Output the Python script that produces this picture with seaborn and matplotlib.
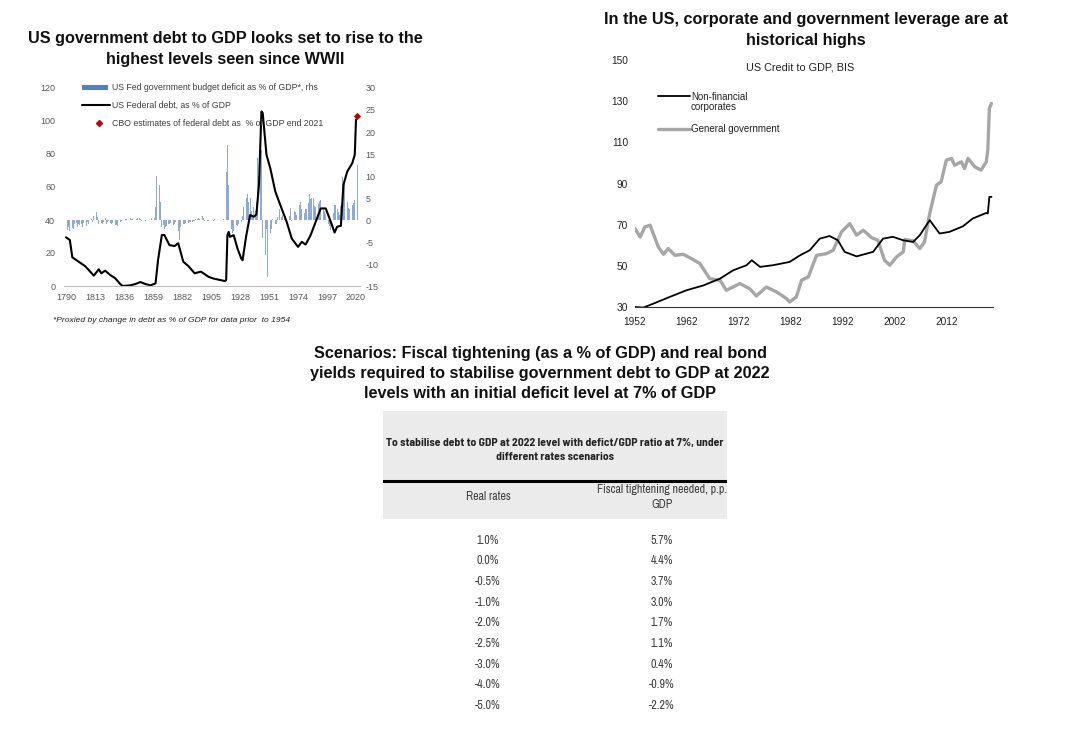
import numpy as np
import pandas as pd
import matplotlib
matplotlib.use("Agg")
import matplotlib.pyplot as plt
import seaborn as sns
from matplotlib.lines import Line2D
from matplotlib.patches import Rectangle

# ---------------- Chart 1: US federal debt & deficit ----------------
debt_years = [1790, 1793, 1795, 1798, 1802, 1805, 1808, 1812, 1816, 1818, 1821, 1825,
              1829, 1833, 1835, 1841, 1845, 1849, 1853, 1857, 1861, 1863, 1866, 1868,
              1872, 1876, 1879, 1883, 1887, 1892, 1897, 1903, 1907, 1916, 1917, 1918,
              1919, 1920, 1923, 1926, 1929, 1930, 1933, 1936, 1939, 1941, 1943, 1945,
              1946, 1949, 1952, 1956, 1960, 1965, 1969, 1974, 1977, 1980, 1984, 1988,
              1992, 1996, 2000, 2003, 2005, 2008, 2010, 2013, 2017, 2019, 2020]
debt_vals = [29.5, 27.9, 17.4, 15.8, 13.7, 12.1, 9.7, 6.3, 10.1, 7.7, 9.3, 6.7,
             4.7, 1.2, 0.0, 0.4, 1.2, 2.4, 1.2, 0.4, 1.6, 15.8, 30.9, 30.9,
             24.8, 24.2, 25.9, 14.7, 12.1, 7.7, 8.7, 5.6, 4.5, 3.0, 3.5, 30.8,
             32.8, 29.8, 30.8, 22.7, 16.6, 15.6, 30.8, 43.0, 42.0, 43.4, 61.0, 105.8,
             104.8, 79.5, 71.4, 57.2, 49.0, 38.9, 28.8, 23.7, 26.8, 25.1, 30.8, 38.9,
             47.0, 47.0, 38.9, 32.4, 35.9, 36.5, 61.2, 69.3, 74.4, 79.5, 100.8]

deficit_years = list(range(1790, 2022))
deficit_vals = [
    -3.0, -2.2, -1.5, -2.6, -1.0, -1.8, -2.1, -1.0, -0.6, -1.5,   # 1790s
    -1.0, -1.2, -0.8, -1.5, -0.6, -1.0, -1.3, -0.5, -0.8, -0.4,   # 1800s
    0.3, -0.5, 0.8, 1.4, 1.8, 0.6, -0.8, -1.2, -0.6, -0.9,        # 1810s
    -0.4, 0.5, -0.8, -0.5, -0.3, -0.7, -0.9, -0.6, -1.0, -1.2,    # 1820s
    -1.1, -1.3, -1.2, -0.5, -0.2, -0.1, 0.1, 0.3, 0.2, 0.1,       # 1830s
    0.2, 0.4, 0.3, 0.2, 0.1, -0.1, 0.2, 0.5, 0.4, 0.2,            # 1840s
    -0.2, -0.3, -0.1, -0.2, -0.1, -0.1, 0.0, 0.1, 0.4, 0.3,       # 1850s
    0.5, 3.0, 10.0, 6.0, 8.0, 4.0, -1.5, -1.2, -2.0, -1.5,        # 1860s
    -1.3, -1.0, -0.8, -0.7, -1.6, -1.2, -0.8, -0.5, -0.9, -2.5,   # 1870s
    -4.5, -1.5, -1.2, -1.0, -0.8, -0.6, -0.9, -0.7, -0.5, -0.4,   # 1880s
    -0.5, -0.3, -0.2, 0.2, 0.3, 0.4, 0.2, 0.3, 0.8, 0.4,          # 1890s
    -0.3, -0.4, -0.3, -0.2, -0.1, 0.1, -0.1, -0.2, 0.3, 0.2,      # 1900s
    -0.1, -0.1, -0.1, -0.1, 0.1, 0.2, 0.1, 11.0, 17.0, 8.0,       # 1910s
    -6.0, -2.0, -3.0, -2.5, -1.5, -1.2, -1.3, -1.0, -0.8, -0.5,   # 1920s
    1.0, 3.0, 12.0, 5.0, 6.0, 4.0, 5.0, 2.0, 1.0, 3.0,            # 1930s
    2.0, 4.0, 14.0, 22.0, 20.0, 16.0, -4.0, -12.0, -8.0, -2.0,    # 1940s
    -13.0, -5.0, -3.0, -2.0, 0.3, 0.7, -0.9, -0.8, 0.6, 2.5,      # 1950s
    -0.1, 0.6, 1.2, 0.8, 0.9, 0.2, 0.5, 1.0, 2.8, -0.3,           # 1960s
    0.3, 2.1, 1.9, 1.1, 0.4, 3.3, 4.1, 2.6, 2.6, 1.6,             # 1970s
    2.6, 2.5, 3.9, 5.9, 4.7, 5.0, 4.9, 3.1, 3.0, 2.7,             # 1980s
    3.7, 4.4, 4.5, 3.7, 2.8, 2.1, 1.3, 0.3, -0.8, -1.3,           # 1990s
    -2.3, -1.2, 1.5, 3.3, 3.4, 2.5, 1.8, 1.1, 3.1, 9.8,           # 2000s
    8.6, 8.4, 6.7, 4.1, 2.8, 2.4, 3.1, 3.4, 3.8, 4.6,             # 2010s
    15.0, 12.4,                                                   # 2020s
]
cbo_year = [2021]
cbo_val = [103.0]
left_ticks = [0, 20, 40, 60, 80, 100, 120]
right_ticks = [-15, -10, -5, 0, 5, 10, 15, 20, 25, 30]
year_ticks1 = [1790, 1813, 1836, 1859, 1882, 1905, 1928, 1951, 1974, 1997, 2020]

# ---------------- Chart 2: US credit to GDP (BIS) ----------------
nfc_years = [1952, 1953.6, 1955.5, 1958.7, 1961.9, 1965.2, 1968.4, 1970.9, 1973.5, 1974.5,
             1976.1, 1978.6, 1981.8, 1983.8, 1985.7, 1987.6, 1989.5, 1991.1, 1992.4, 1994.7,
             1996.6, 1997.9, 1999.8, 2001.7, 2003.7, 2005.6, 2006.9, 2008.8, 2010.7, 2012.6,
             2015.2, 2017.1, 2019.7, 2020.0, 2020.3, 2020.7]
nfc_vals = [30.0, 29.7, 31.6, 34.9, 38.1, 40.5, 43.8, 47.8, 50.3, 52.7,
            49.5, 50.3, 51.9, 55.1, 57.6, 63.2, 64.5, 62.4, 56.8, 54.6,
            55.9, 56.8, 63.2, 64.1, 62.4, 61.6, 64.9, 72.2, 65.7, 66.5,
            69.2, 73.0, 75.7, 75.4, 83.5, 83.5]
gov_years = [1952, 1953, 1953.9, 1954.9, 1956.5, 1957.5, 1958.4, 1959.7, 1961.3, 1962.9,
             1964.5, 1966.4, 1968.4, 1969.6, 1970.9, 1972.2, 1974.1, 1975.4, 1977.3, 1979.3,
             1981.2, 1981.8, 1983.1, 1984.1, 1985.4, 1987.0, 1988.9, 1990.2, 1991.8, 1993.4,
             1994.7, 1996.0, 1997.6, 1998.8, 2000.1, 2001.1, 2002.4, 2003.7, 2004.0, 2005.6,
             2006.9, 2007.8, 2008.8, 2010.1, 2011.0, 2012.0, 2013.0, 2013.6, 2014.9, 2015.5,
             2016.2, 2017.5, 2018.7, 2019.7, 2020.0, 2020.3, 2020.7]
gov_vals = [68.1, 64.0, 68.9, 69.7, 59.2, 55.6, 58.4, 55.1, 55.6, 53.5,
            51.1, 43.8, 43.0, 38.1, 39.7, 41.4, 38.9, 35.4, 39.7, 37.3,
            34.1, 32.4, 34.9, 43.0, 44.6, 55.1, 55.9, 57.6, 66.5, 70.5,
            64.9, 67.3, 63.7, 62.4, 52.7, 50.3, 54.3, 56.8, 62.8, 62.1,
            58.4, 61.6, 75.4, 89.2, 90.8, 101.3, 102.2, 98.9, 100.5, 97.3,
            102.2, 98.1, 96.5, 100.5, 106.2, 126.5, 128.9]
credit_yticks = [30, 50, 70, 90, 110, 130, 150]
credit_xticks = [1952, 1962, 1972, 1982, 1992, 2002, 2012]

# ---------------- Table ----------------
real_rates = [1.0, 0.0, -0.5, -1.0, -2.0, -2.5, -3.0, -4.0, -5.0]
fiscal_needed = [5.7, 4.4, 3.7, 3.0, 1.7, 1.1, 0.4, -0.9, -2.2]

# ====================================================================
sns.set_theme(style="white")
plt.rcParams["font.family"] = ["Liberation Sans", "DejaVu Sans"]
plt.rcParams["axes.unicode_minus"] = False

W, H = 1090, 732
fig = plt.figure(figsize=(W / 100, H / 100), dpi=100)


def rect(x0, y0, x1, y1):
    return [x0 / W, 1 - y1 / H, (x1 - x0) / W, (y1 - y0) / H]


def fx(x):
    return x / W


def fy(y):
    return 1 - y / H


TXT = "#404040"
TITLE_FS = 11.7

# ---------------- Chart 1 ----------------
ax1 = fig.add_axes(rect(63.5, 88, 359.8, 286))
ax2 = ax1.twinx()
sns.barplot(x=deficit_years, y=deficit_vals, native_scale=True, orient="x", ax=ax2,
            color="#8faad6", saturation=1, width=0.65, linewidth=0)
sns.lineplot(x=debt_years, y=debt_vals, ax=ax1, color="black", linewidth=1.5,
             estimator=None, sort=False)
sns.scatterplot(x=cbo_year, y=cbo_val, ax=ax1, color="#c00000", marker="D", s=14,
                linewidth=0, zorder=5)
ax1.set_zorder(ax2.get_zorder() + 1)
ax1.patch.set_visible(False)
for a in (ax1, ax2):
    a.set_xlim(1788, 2023)
    for s in a.spines.values():
        s.set_visible(False)
    a.set_xlabel("")
    a.set_ylabel("")
ax1.spines["bottom"].set_visible(True)
ax1.spines["bottom"].set_color("#bfbfbf")
ax1.spines["bottom"].set_linewidth(0.8)
ax1.set_ylim(0, 120)
ax2.set_ylim(-15, 30)
ax1.set_yticks(left_ticks)
ax2.set_yticks(right_ticks)
ax1.set_xticks(year_ticks1)
ax1.set_xticklabels([str(y) for y in year_ticks1])
ax1.tick_params(axis="both", length=0, labelsize=6.5, labelcolor="#595959")
ax1.tick_params(axis="y", pad=6)
ax1.tick_params(axis="x", pad=5)
ax2.tick_params(axis="y", length=0, labelsize=6.5, labelcolor="#595959", pad=4)
ax2.tick_params(axis="x", length=0, labelbottom=False)

# legend for chart 1
fig.add_artist(Rectangle((fx(82), fy(90)), fx(26), 5 / H, transform=fig.transFigure,
                         color="#4f81bd", lw=0))
fig.add_artist(Line2D([fx(82), fx(110)], [fy(105), fy(105)], transform=fig.transFigure,
                      color="black", lw=1.5))
fig.add_artist(Line2D([fx(98.5)], [fy(123)], transform=fig.transFigure, marker="D",
                      markersize=3, color="#c00000", lw=0))
leg_txt = ["US Fed government budget deficit as % of GDP*, rhs",
           "US Federal debt, as % of GDP",
           "CBO estimates of federal debt as  % of GDP end 2021"]
for t, yy in zip(leg_txt, [87.5, 105, 123]):
    fig.text(fx(112), fy(yy), t, fontsize=6.3, color=TXT, va="center", ha="left")

fig.text(fx(225), fy(49), "US government debt to GDP looks set to rise to the\nhighest levels seen since WWII",
         ha="center", va="center", fontsize=TITLE_FS, fontweight="bold", linespacing=1.55,
         color="#111111")
fig.text(fx(53), fy(320), "*Proxied by change in debt as % of GDP for data prior  to 1954",
         ha="left", va="center", fontsize=6.1, style="italic", color="#222222")

# ---------------- Chart 2 ----------------
ax3 = fig.add_axes(rect(635, 60, 993, 307))
sns.lineplot(x=gov_years, y=gov_vals, ax=ax3, color="#a6a6a6", linewidth=2.4,
             estimator=None, sort=False)
sns.lineplot(x=nfc_years, y=nfc_vals, ax=ax3, color="black", linewidth=1.3,
             estimator=None, sort=False)
ax3.set_xlim(1952, 2021)
ax3.set_ylim(30, 150)
ax3.set_yticks(credit_yticks)
ax3.set_xticks(credit_xticks)
ax3.set_xticklabels([str(y) for y in credit_xticks])
for s in ax3.spines.values():
    s.set_visible(False)
ax3.spines["bottom"].set_visible(True)
ax3.spines["bottom"].set_color("#333333")
ax3.spines["bottom"].set_linewidth(0.8)
ax3.tick_params(axis="y", length=0, labelsize=7.3, labelcolor="#222222", pad=5)
ax3.tick_params(axis="x", length=0, labelsize=7.3, labelcolor="#222222", pad=7)
ax3.set_xlabel("")
ax3.set_ylabel("")

fig.add_artist(Line2D([fx(658), fx(690)], [fy(96), fy(96)], transform=fig.transFigure,
                      color="black", lw=1.3))
fig.add_artist(Line2D([fx(658), fx(690)], [fy(129), fy(129)], transform=fig.transFigure,
                      color="#a6a6a6", lw=2.4))
fig.text(fx(691), fy(102), "Non-financial\ncorporates", fontsize=7, color="#222222",
         va="center", ha="left", linespacing=1.05)
fig.text(fx(691), fy(129), "General government", fontsize=7, color="#222222",
         va="center", ha="left")

fig.text(fx(806), fy(30), "In the US, corporate and government leverage are at\nhistorical highs",
         ha="center", va="center", fontsize=TITLE_FS, fontweight="bold", linespacing=1.55,
         color="#111111")
fig.text(fx(800), fy(67), "US Credit to GDP, BIS", ha="center", va="center", fontsize=7.8,
         color="#222222")

# ---------------- Bottom: scenarios table ----------------
fig.text(fx(540), fy(373.5),
         "Scenarios: Fiscal tightening (as a % of GDP) and real bond\n"
         "yields required to stabilise government debt to GDP at 2022\n"
         "levels with an initial deficit level at 7% of GDP",
         ha="center", va="center", fontsize=TITLE_FS, fontweight="bold", linespacing=1.45,
         color="#111111")

axT = fig.add_axes(rect(383, 411, 727, 722))
axT.set_xlim(0, 1)
axT.set_ylim(722, 411)
axT.axis("off")
axT.axhspan(411, 479.8, color="#ebebeb", lw=0)
axT.axhspan(482.3, 519, color="#ebebeb", lw=0)
axT.axhline(481, color="black", lw=2.2)

HEAD = ["Barlow Semi Condensed", "Liberation Sans", "DejaVu Sans"]
NARROW = ["Archivo Narrow", "Liberation Sans", "DejaVu Sans"]
BODY_FS = 8.6
axT.text(0.5, 450,
         "To stabilise debt to GDP at 2022 level with defict/GDP ratio at 7%, under\n"
         "different rates scenarios",
         ha="center", va="center", fontsize=8.4, fontweight="bold", family=HEAD,
         color="#262626", linespacing=1.45)
axT.text(0.305, 497, "Real rates", ha="center", va="center", fontsize=BODY_FS,
         family=NARROW, color=TXT)
axT.text(0.811, 497, "Fiscal tightening needed, p.p.\nGDP", ha="center", va="center",
         fontsize=BODY_FS, family=NARROW, color=TXT, linespacing=1.5)

tbl = pd.DataFrame({"real": real_rates, "fiscal": fiscal_needed})
for i, row in tbl.iterrows():
    yy = 540 + i * 20.7
    axT.text(0.305, yy, f"{row['real']:.1f}%", ha="center", va="center", fontsize=BODY_FS,
             family=NARROW, color=TXT)
    axT.text(0.811, yy, f"{row['fiscal']:.1f}%", ha="center", va="center", fontsize=BODY_FS,
             family=NARROW, color=TXT)

fig.savefig("out.png", dpi=100)
